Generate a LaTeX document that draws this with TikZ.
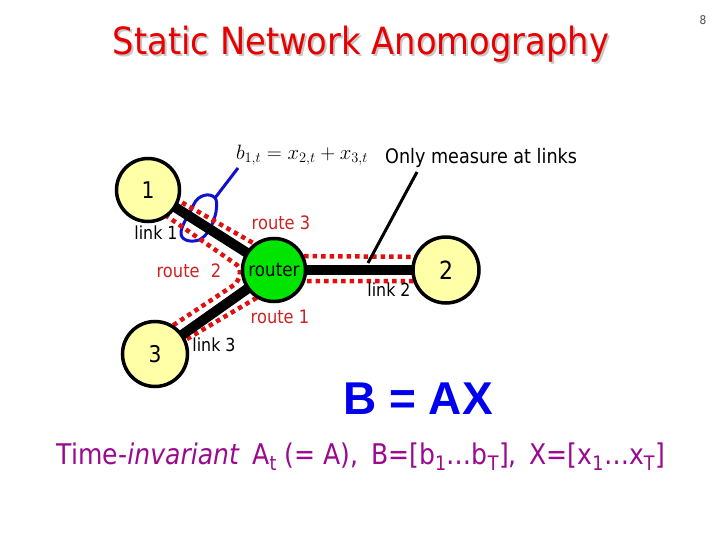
\documentclass[tikz,border=0pt]{standalone}
\usepackage{fontspec}
\setmainfont{DejaVu Sans}[FakeStretch=0.88]
\newfontfamily\titlefont{DejaVu Sans}[FakeStretch=0.9]
\newfontfamily\arialb{Liberation Sans}
\definecolor{nodeyellow}{HTML}{FFFFA8}
\definecolor{routergreen}{HTML}{00E400}
\definecolor{routered}{HTML}{E01010}
\definecolor{labelred}{HTML}{CC2222}
\definecolor{titlered}{HTML}{E80000}
\definecolor{lassoblue}{HTML}{1010D0}
\definecolor{bigblue}{HTML}{0000EE}
\definecolor{purp}{HTML}{9A0A8E}
\newcommand{\titletext}{Static Network Anomography}
\begin{document}
\begin{tikzpicture}[x=1pt,y=-1pt,
  netnode/.style={circle,draw=black,line width=3.5pt,fill=nodeyellow,inner sep=0pt,minimum size=63pt,font=\fontsize{23}{25}\selectfont},
  routernode/.style={circle,draw=black,line width=3.5pt,fill=routergreen,inner sep=0pt,minimum size=63pt,font=\fontsize{19}{21}\selectfont},
  linkline/.style={line width=10pt,black},
  routeline/.style={line width=4.5pt,routered,dash pattern=on 4.5pt off 4pt},
  routelabel/.style={text=labelred,font=\fontsize{18.5}{20}\selectfont,inner sep=0pt},
  linklabel/.style={text=black,font=\fontsize{18}{20}\selectfont,inner sep=0pt},
  lasso/.style={line width=3pt,lassoblue}]
\path[use as bounding box] (0,0) rectangle (720,540);

% title with shadow
\node[text=titlered,font=\titlefont\fontsize{37.5}{42}\selectfont] (title) at (361,45)
  {\rlap{\hspace{2pt}\raisebox{-2pt}{\textcolor{black!22}{\titletext}}}\titletext};

% page number
\node[text=black!70,font=\fontsize{12}{14}\selectfont] (pnum) at (703,20) {8};

% formula and note
\node[font=\fontsize{21.5}{24}\selectfont,inner sep=0pt] (formula) at (302,155) {$b_{1,t}=x_{2,t}+x_{3,t}$};
\node[font=\fontsize{20}{23}\selectfont,inner sep=0pt,anchor=west] (note) at (385,158) {Only measure at links};

% node positions
\coordinate (c1) at (148,190);
\coordinate (cr) at (274,270);
\coordinate (c2) at (446,270);
\coordinate (c3) at (155,354);

% blue lasso
\coordinate (lassotop) at (238,168);
\coordinate (lassoknot) at (215,198);
\draw[lasso] (lassotop) -- (lassoknot);
\draw[lasso] (lassoknot) .. controls (210,192) and (198,195) .. (194,204)
  .. controls (189,215) and (182,224) .. (181,232)
  .. controls (180,240) and (190,243) .. (199,240)
  .. controls (208,236) and (214,222) .. (216,212)
  .. controls (217,205) and (217,200) .. (lassoknot);

% routes
\draw[routeline] (160,190) -- (276,256) -- (446,257);
\draw[routeline] (158,210) -- (237,265) .. controls (242,270) and (240,280) .. (234,285) -- (160,334);
\draw[routeline] (165,352) -- (285,281) -- (446,281);

% links
\draw[linkline] (c1) -- (cr);
\draw[linkline] (cr) -- (c2);
\draw[linkline] (cr) -- (c3);

% pointer
\coordinate (ptop) at (417,172);
\coordinate (pbot) at (368,263);
\draw[line width=3pt,black] (ptop) -- (pbot);

% nodes
\node[netnode] (n1) at (c1) {1};
\node[routernode] (router) at (cr) {router};
\node[netnode,minimum size=66pt,font=\fontsize{25}{27}\selectfont] (n2) at (c2) {2};
\node[netnode,minimum size=65pt] (n3) at (c3) {3};

% labels
\node[routelabel] (r3) at (281,223) {route 3};
\node[routelabel] (r2) at (189,271) {route\,\, 2};
\node[routelabel] (r1) at (280,317) {route 1};
\node[linklabel] (l1) at (156,233) {link 1};
\node[linklabel] (l2) at (389,290) {link 2};
\node[linklabel] (l3) at (214,345) {link 3};

% equation
\node[text=bigblue,font=\arialb\bfseries\fontsize{46}{50}\selectfont] (bax) at (418,399) {B = AX};
\node[text=purp,font=\fontsize{28.5}{32}\selectfont] (bottom) at (361,457)
  {Time-\textit{invariant}\, A\textsubscript{t} (= A),\, B=[b\textsubscript{1}…b\textsubscript{T}],\, X=[x\textsubscript{1}…x\textsubscript{T}]};
\end{tikzpicture}
\end{document}
